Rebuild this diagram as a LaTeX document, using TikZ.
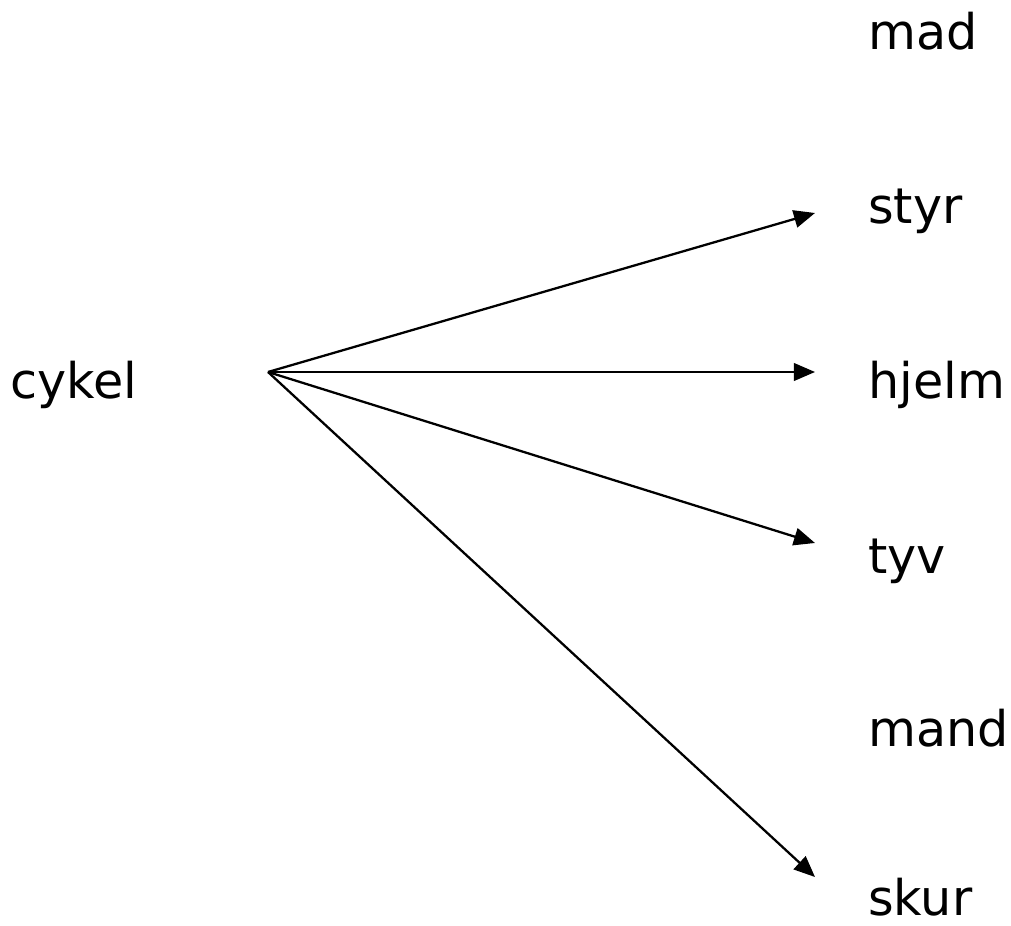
\documentclass[tikz,border=0pt]{standalone}
\usepackage{fontspec}
\setmainfont{DejaVu Sans}
\usetikzlibrary{arrows.meta}
\tikzset{
  word/.style={anchor=base west, inner sep=0pt, font=\fontsize{28}{30}\selectfont},
  link/.style={line width=1.3pt, -{Triangle[length=12pt, width=10pt]}}
}
\begin{document}
\begin{tikzpicture}[x=0.02cm, y=-0.02cm]
      \useasboundingbox (0,0) rectangle (1011,926);

      \node[word] (cykel) at (10, 398) {cykel};
      \node[word] (mad) at (868, 50) {mad};
      \node[word] (styr) at (868, 223) {styr};
      \node[word] (hjelm) at (868, 398) {hjelm};
      \node[word] (tyv) at (868, 573) {tyv};
      \node[word] (mand) at (868, 746) {mand};
      \node[word] (skur) at (868, 915) {skur};

      \coordinate (hub) at (268, 372);
      \coordinate (styr_in) at (815, 213);
      \coordinate (hjelm_in) at (815, 372);
      \coordinate (tyv_in) at (815, 543);
      \coordinate (skur_in) at (815, 877);

      \draw[link] (hub) -- (styr_in);
      \draw[link] (hub) -- (hjelm_in);
      \draw[link] (hub) -- (tyv_in);
      \draw[link] (hub) -- (skur_in);
    \end{tikzpicture}
\end{document}
